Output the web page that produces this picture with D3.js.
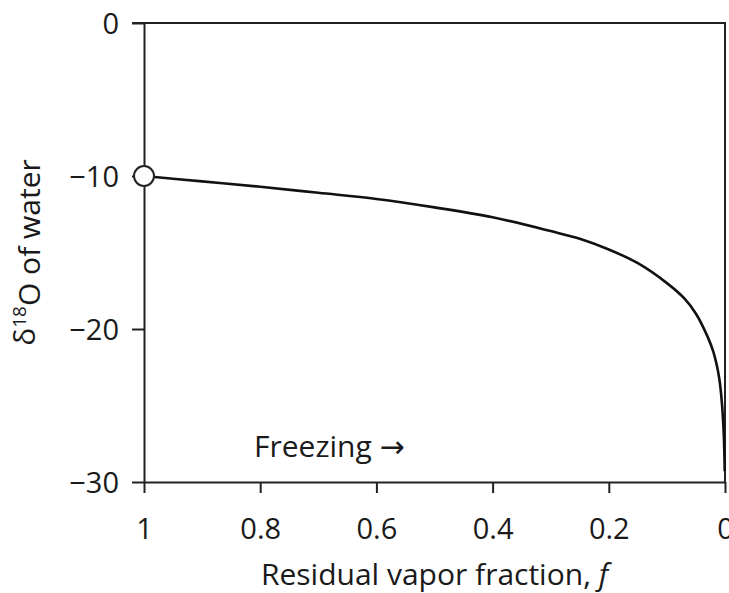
<!DOCTYPE html>
<html>
<head>
<meta charset="utf-8">
<script src="https://cdnjs.cloudflare.com/ajax/libs/d3/7.8.5/d3.min.js"></script>
<style>
  body { margin: 0; background: #fff; }
  text { font-family: "Open Sans", "Noto Sans", sans-serif; fill: #1a1a1a; }
</style>
</head>
<body>
<div id="chart"></div>
<script>
// residual vapor fraction f and d18O of water
var fValues = [1.0, 0.9, 0.8, 0.7, 0.6, 0.5, 0.4, 0.3, 0.25, 0.2, 0.15, 0.1,
    0.07, 0.05, 0.03, 0.02, 0.01, 0.005, 0.002, 0.0005];
var d18O = [-10.0, -10.35, -10.7, -11.1, -11.5, -12.05, -12.7, -13.6, -14.1, -14.8,
    -15.7, -17.0, -18.0, -19.0, -20.5, -21.5, -23.2, -25.0, -27.0, -29.3];
var xTicks = [1, 0.8, 0.6, 0.4, 0.2, 0];
var yTicks = [0, -10, -20, -30];

var width = 729,
    height = 593,
    margin = {top: 23, right: 4, bottom: 111, left: 144};

var svg = d3.select("#chart")
    .append("svg")
    .attr("width", width)
    .attr("height", height);

var x = d3.scaleLinear()
    .domain([1, 0])
    .range([margin.left, width - margin.right]);

var y = d3.scaleLinear()
    .domain([0, -30])
    .range([margin.top, height - margin.bottom]);

var fmtX = function(d) { return String(d); };
var fmtY = function(d) { return d === 0 ? "0" : "\u2212" + Math.abs(d); };

// box: top and right edges
svg.append("path")
    .attr("d", "M" + (x(1) - 12) + "," + y(0) + "H" + x(0) + "V" + y(-30))
    .attr("fill", "none")
    .attr("stroke", "#222")
    .attr("stroke-width", 2);

var xAxis = svg.append("g")
    .attr("transform", "translate(0," + y(-30) + ")")
    .call(d3.axisBottom(x).tickValues(xTicks).tickFormat(fmtX).tickSize(11).tickSizeOuter(0).tickPadding(25));

var yAxis = svg.append("g")
    .attr("transform", "translate(" + x(1) + ",0)")
    .call(d3.axisLeft(y).tickValues(yTicks).tickFormat(fmtY).tickSize(12).tickSizeOuter(0).tickPadding(13));

[xAxis, yAxis].forEach(function(g) {
    g.select(".domain").attr("stroke", "#222").attr("stroke-width", 2);
    g.selectAll(".tick line").attr("stroke", "#222").attr("stroke-width", 2);
    g.selectAll(".tick text")
        .style("font-family", "'Open Sans', sans-serif")
        .style("font-size", "29px")
        .attr("fill", "#1a1a1a");
});
yAxis.selectAll(".tick text").attr("dy", "0.36em");

var line = d3.line()
    .x(function(d, i) { return x(fValues[i]); })
    .y(function(d) { return y(d); })
    .curve(d3.curveCatmullRom.alpha(0.5));

svg.append("path")
    .datum(d18O)
    .attr("d", line)
    .attr("fill", "none")
    .attr("stroke", "#111")
    .attr("stroke-width", 2.6);

svg.append("circle")
    .attr("cx", x(fValues[0]))
    .attr("cy", y(d18O[0]))
    .attr("r", 10)
    .attr("fill", "#fff")
    .attr("stroke", "#222")
    .attr("stroke-width", 2);

var freeze = svg.append("text")
    .attr("x", 254)
    .attr("y", 457)
    .style("font-size", "30px");
freeze.append("tspan").text("Freezing ");
freeze.append("tspan").style("font-family", "'DejaVu Sans', sans-serif").style("font-size", "30px").text("\u2192");

svg.append("text")
    .attr("x", (x(1) + x(0)) / 2)
    .attr("y", 585)
    .attr("text-anchor", "middle")
    .style("font-size", "30px")
    .html("Residual vapor fraction, <tspan font-style='italic'>f</tspan>");

var yLabel = svg.append("text")
    .attr("transform", "translate(35," + ((y(0) + y(-30)) / 2) + ") rotate(-90)")
    .attr("text-anchor", "middle")
    .style("font-size", "30px");
yLabel.append("tspan").text("\u03b4");
yLabel.append("tspan").attr("dy", "-0.45em").style("font-size", "19px").text("18");
yLabel.append("tspan").attr("dy", "0.45em").text("O of water");
</script>
</body>
</html>
